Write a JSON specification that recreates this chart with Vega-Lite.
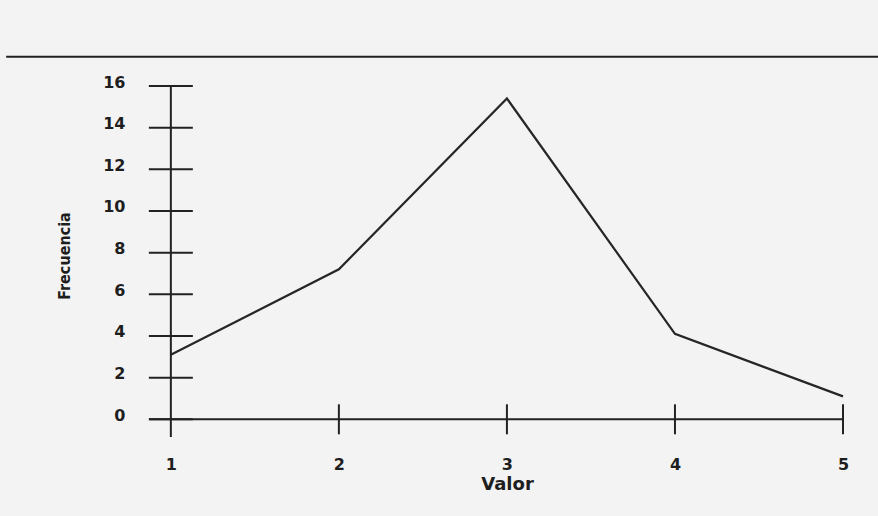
{
  "$schema": "https://vega.github.io/schema/vega-lite/v6.json",
  "width": 694,
  "height": 351,
  "autosize": {"type": "none"},
  "padding": {"left": 149, "top": 86, "right": 35, "bottom": 79},
  "background": "#f3f3f3",
  "config": {"view": {"stroke": null}, "font": "DejaVu Sans"},
  "layer": [
    {
      "data": {"values": [
        {"valor": 1, "frecuencia": 3.1},
        {"valor": 2, "frecuencia": 7.2},
        {"valor": 3, "frecuencia": 15.4},
        {"valor": 4, "frecuencia": 4.1},
        {"valor": 5, "frecuencia": 1.1}
      ]},
      "mark": {"type": "line", "color": "#262626", "strokeWidth": 2.2},
      "encoding": {
        "x": {
          "field": "valor", "type": "quantitative",
          "scale": {"domain": [0.87, 5], "nice": false, "zero": false},
          "axis": {
            "values": [1, 2, 3, 4, 5], "format": "d", "domain": false, "ticks": false, "grid": false,
            "labelFlush": false, "labelOverlap": false,
            "labelPadding": 19, "labelFontSize": 16, "labelFontWeight": "bold", "labelColor": "#1e1e1e",
            "title": "Valor", "titleFontSize": 18, "titleFontWeight": "bold", "titleColor": "#1e1e1e",
            "titleX": 358, "titleY": 52, "titleBaseline": "alphabetic", "titleAlign": "center"
          }
        },
        "y": {
          "field": "frecuencia", "type": "quantitative",
          "scale": {"domain": [-0.85, 16], "nice": false, "zero": false},
          "axis": {
            "values": [0, 2, 4, 6, 8, 10, 12, 14, 16], "format": "d", "domain": false, "ticks": false, "grid": false,
            "labelFlush": false, "labelOverlap": false,
            "labelPadding": 24, "labelFontSize": 16, "labelFontWeight": "bold", "labelColor": "#1e1e1e", "labelOffset": -4,
            "title": "Frecuencia", "titleFont": "DejaVu Sans Condensed", "titleFontSize": 16, "titleFontWeight": "bold", "titleColor": "#1e1e1e",
            "titleX": -84.5, "titleY": 169.5, "titleAngle": -90, "titleBaseline": "middle", "titleAlign": "center"
          }
        }
      }
    },
    {
      "data": {"values": [{"t": 0}, {"t": 2}, {"t": 4}, {"t": 6}, {"t": 8}, {"t": 10}, {"t": 12}, {"t": 14}, {"t": 16}]},
      "mark": {"type": "tick", "orient": "horizontal", "size": 44, "thickness": 2, "color": "#222", "opacity": 1},
      "encoding": {
        "x": {"datum": 1, "type": "quantitative"},
        "y": {"field": "t", "type": "quantitative"}
      }
    },
    {
      "data": {"values": [{"t": 2}, {"t": 3}, {"t": 4}, {"t": 5}]},
      "mark": {"type": "tick", "orient": "vertical", "size": 30, "thickness": 2, "color": "#222", "opacity": 1},
      "encoding": {
        "x": {"field": "t", "type": "quantitative"},
        "y": {"datum": 0, "type": "quantitative"}
      }
    },
    {
      "data": {"values": [{}]},
      "mark": {"type": "rule", "color": "#222", "strokeWidth": 2},
      "encoding": {
        "x": {"datum": 1, "type": "quantitative"},
        "y": {"datum": -0.85, "type": "quantitative"},
        "y2": {"datum": 16}
      }
    },
    {
      "data": {"values": [{}]},
      "mark": {"type": "rule", "color": "#222", "strokeWidth": 2},
      "encoding": {
        "x": {"datum": 0.87, "type": "quantitative"},
        "x2": {"datum": 5},
        "y": {"datum": 0, "type": "quantitative"}
      }
    },
    {
      "data": {"values": [{}]},
      "mark": {"type": "rule", "color": "#222", "strokeWidth": 2},
      "encoding": {
        "x": {"datum": 0.02, "type": "quantitative"},
        "x2": {"datum": 5.21},
        "y": {"datum": 17.4, "type": "quantitative"}
      }
    }
  ]
}
